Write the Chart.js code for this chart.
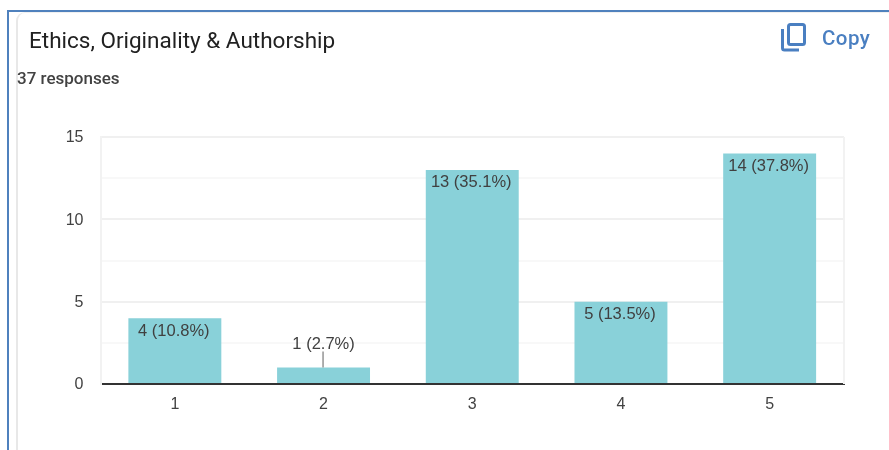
<!DOCTYPE html>
<html>
<head>
<meta charset="utf-8">
<title>Ethics, Originality &amp; Authorship</title>
<script src="https://cdn.jsdelivr.net/npm/chart.js@4"></script>
<style>
  html, body { margin: 0; padding: 0; background: #fff; overflow: hidden; }
  #page { position: relative; width: 889px; height: 450px; overflow: hidden; }
  #frame { position: absolute; left: 7px; top: 10px; width: 900px; height: 460px; border-left: 2px solid #4f81bd; border-top: 2px solid #4f81bd; }
  #card { position: absolute; left: 16px; top: 12px; width: 900px; height: 460px; border-left: 2px solid #e8e8e8; border-top: 1px solid #f0f0f0; border-top-left-radius: 9px; }
  #title { position: absolute; left: 29px; top: 26px; font: 22.5px Roboto, sans-serif; color: #212121; line-height: 28px; white-space: nowrap; }
  #count { position: absolute; left: 17px; top: 69px; font: 500 17px Roboto, sans-serif; color: #424242; line-height: 19px; white-space: nowrap; }
  #copyIcon { position: absolute; left: 781px; top: 23px; }
  #copy { position: absolute; left: 822px; top: 26px; font: 500 20.5px Roboto, sans-serif; color: #4a7fc1; line-height: 24px; letter-spacing: 0.45px; white-space: nowrap; }
</style>
</head>
<body>
<div id="page">
  <div id="frame"></div>
  <div id="card"></div>
  <canvas id="responsesChart" width="889" height="450" style="position:absolute;left:0;top:0;width:889px;height:450px"></canvas>
  <div id="title">Ethics, Originality &amp; Authorship</div>
  <div id="count">37 responses</div>
  <svg id="copyIcon" width="26" height="29" viewBox="0 0 26 29" fill="none" stroke="#4a7fc1" stroke-width="3">
    <rect x="7.5" y="1.5" width="16" height="20" rx="2"></rect>
    <path d="M1.5 6 V25 a2 2 0 0 0 2 2 H18"></path>
  </svg>
  <div id="copy">Copy</div>
</div>
<script>
const categories = ['1', '2', '3', '4', '5'];
const responses = [4, 1, 13, 5, 14];
const percents = ['10.8', '2.7', '35.1', '13.5', '37.8'];
const yTickLabels = ['0', '5', '10', '15'];

// closes the plot on the right, the y axis border only covers the left side
const rightEdge = {
    id: 'rightEdge',
    beforeDatasetsDraw(chart) {
        const c = chart.ctx;
        const area = chart.chartArea;
        c.save();
        c.strokeStyle = '#f2f2f2';
        c.lineWidth = 2;
        c.beginPath();
        c.moveTo(area.right, area.top);
        c.lineTo(area.right, area.bottom);
        c.stroke();
        c.restore();
    }
};

// value labels sit inside the bar, except short bars that get a leader line
const barLabels = {
    id: 'barLabels',
    afterDatasetsDraw(chart) {
        const c = chart.ctx;
        const bars = chart.getDatasetMeta(0).data;
        c.save();
        c.font = '16.5px "Liberation Sans", Arial, sans-serif';
        c.fillStyle = '#404040';
        c.textAlign = 'center';
        c.textBaseline = 'middle';
        bars.forEach(function (bar, i) {
            const text = responses[i] + ' (' + percents[i] + '%)';
            if (responses[i] < 2) {
                c.strokeStyle = '#949494';
                c.lineWidth = 1.5;
                c.beginPath();
                c.moveTo(bar.x - 0.5, bar.y);
                c.lineTo(bar.x - 0.5, bar.y - 16);
                c.stroke();
                c.fillText(text, bar.x, bar.y - 23.5);
            } else {
                c.fillText(text, bar.x - 1, bar.y + 13);
            }
        });
        c.restore();
    }
};

new Chart(document.getElementById('responsesChart').getContext('2d'), {
    type: 'bar',
    data: {
        labels: categories,
        datasets: [{
            data: responses,
            backgroundColor: '#89d1d9',
            categoryPercentage: 1,
            barPercentage: 0.625
        }]
    },
    options: {
        responsive: false,
        animation: false,
        layout: { padding: { left: 50.5, right: 45, top: 137, bottom: 36 } },
        plugins: { legend: { display: false }, tooltip: { enabled: false } },
        scales: {
            x: {
                afterFit: function (s) { s.height = 30; },
                grid: { display: false },
                border: { color: '#333333', width: 2 },
                ticks: { color: '#424242', font: { family: '"Liberation Sans", Arial, sans-serif', size: 16 }, padding: 3, maxRotation: 0 }
            },
            y: {
                min: 0,
                max: 15,
                afterFit: function (s) { s.width = 50; },
                border: { color: '#f2f2f2', width: 2 },
                grid: {
                    drawTicks: false,
                    lineWidth: 2,
                    // lighter lines halfway between the labelled ticks
                    color: function (ctx) { return ctx.tick.value % 5 === 0 ? '#f0f0f0' : '#f8f8f8'; }
                },
                ticks: {
                    stepSize: 2.5,
                    autoSkip: false,
                    color: '#424242',
                    font: { family: '"Liberation Sans", Arial, sans-serif', size: 16 },
                    padding: 17,
                    labelOffset: 1,
                    callback: function (v) { return v % 5 === 0 ? yTickLabels[v / 5] : ''; }
                }
            }
        }
    },
    plugins: [rightEdge, barLabels]
});
</script>
</body>
</html>
